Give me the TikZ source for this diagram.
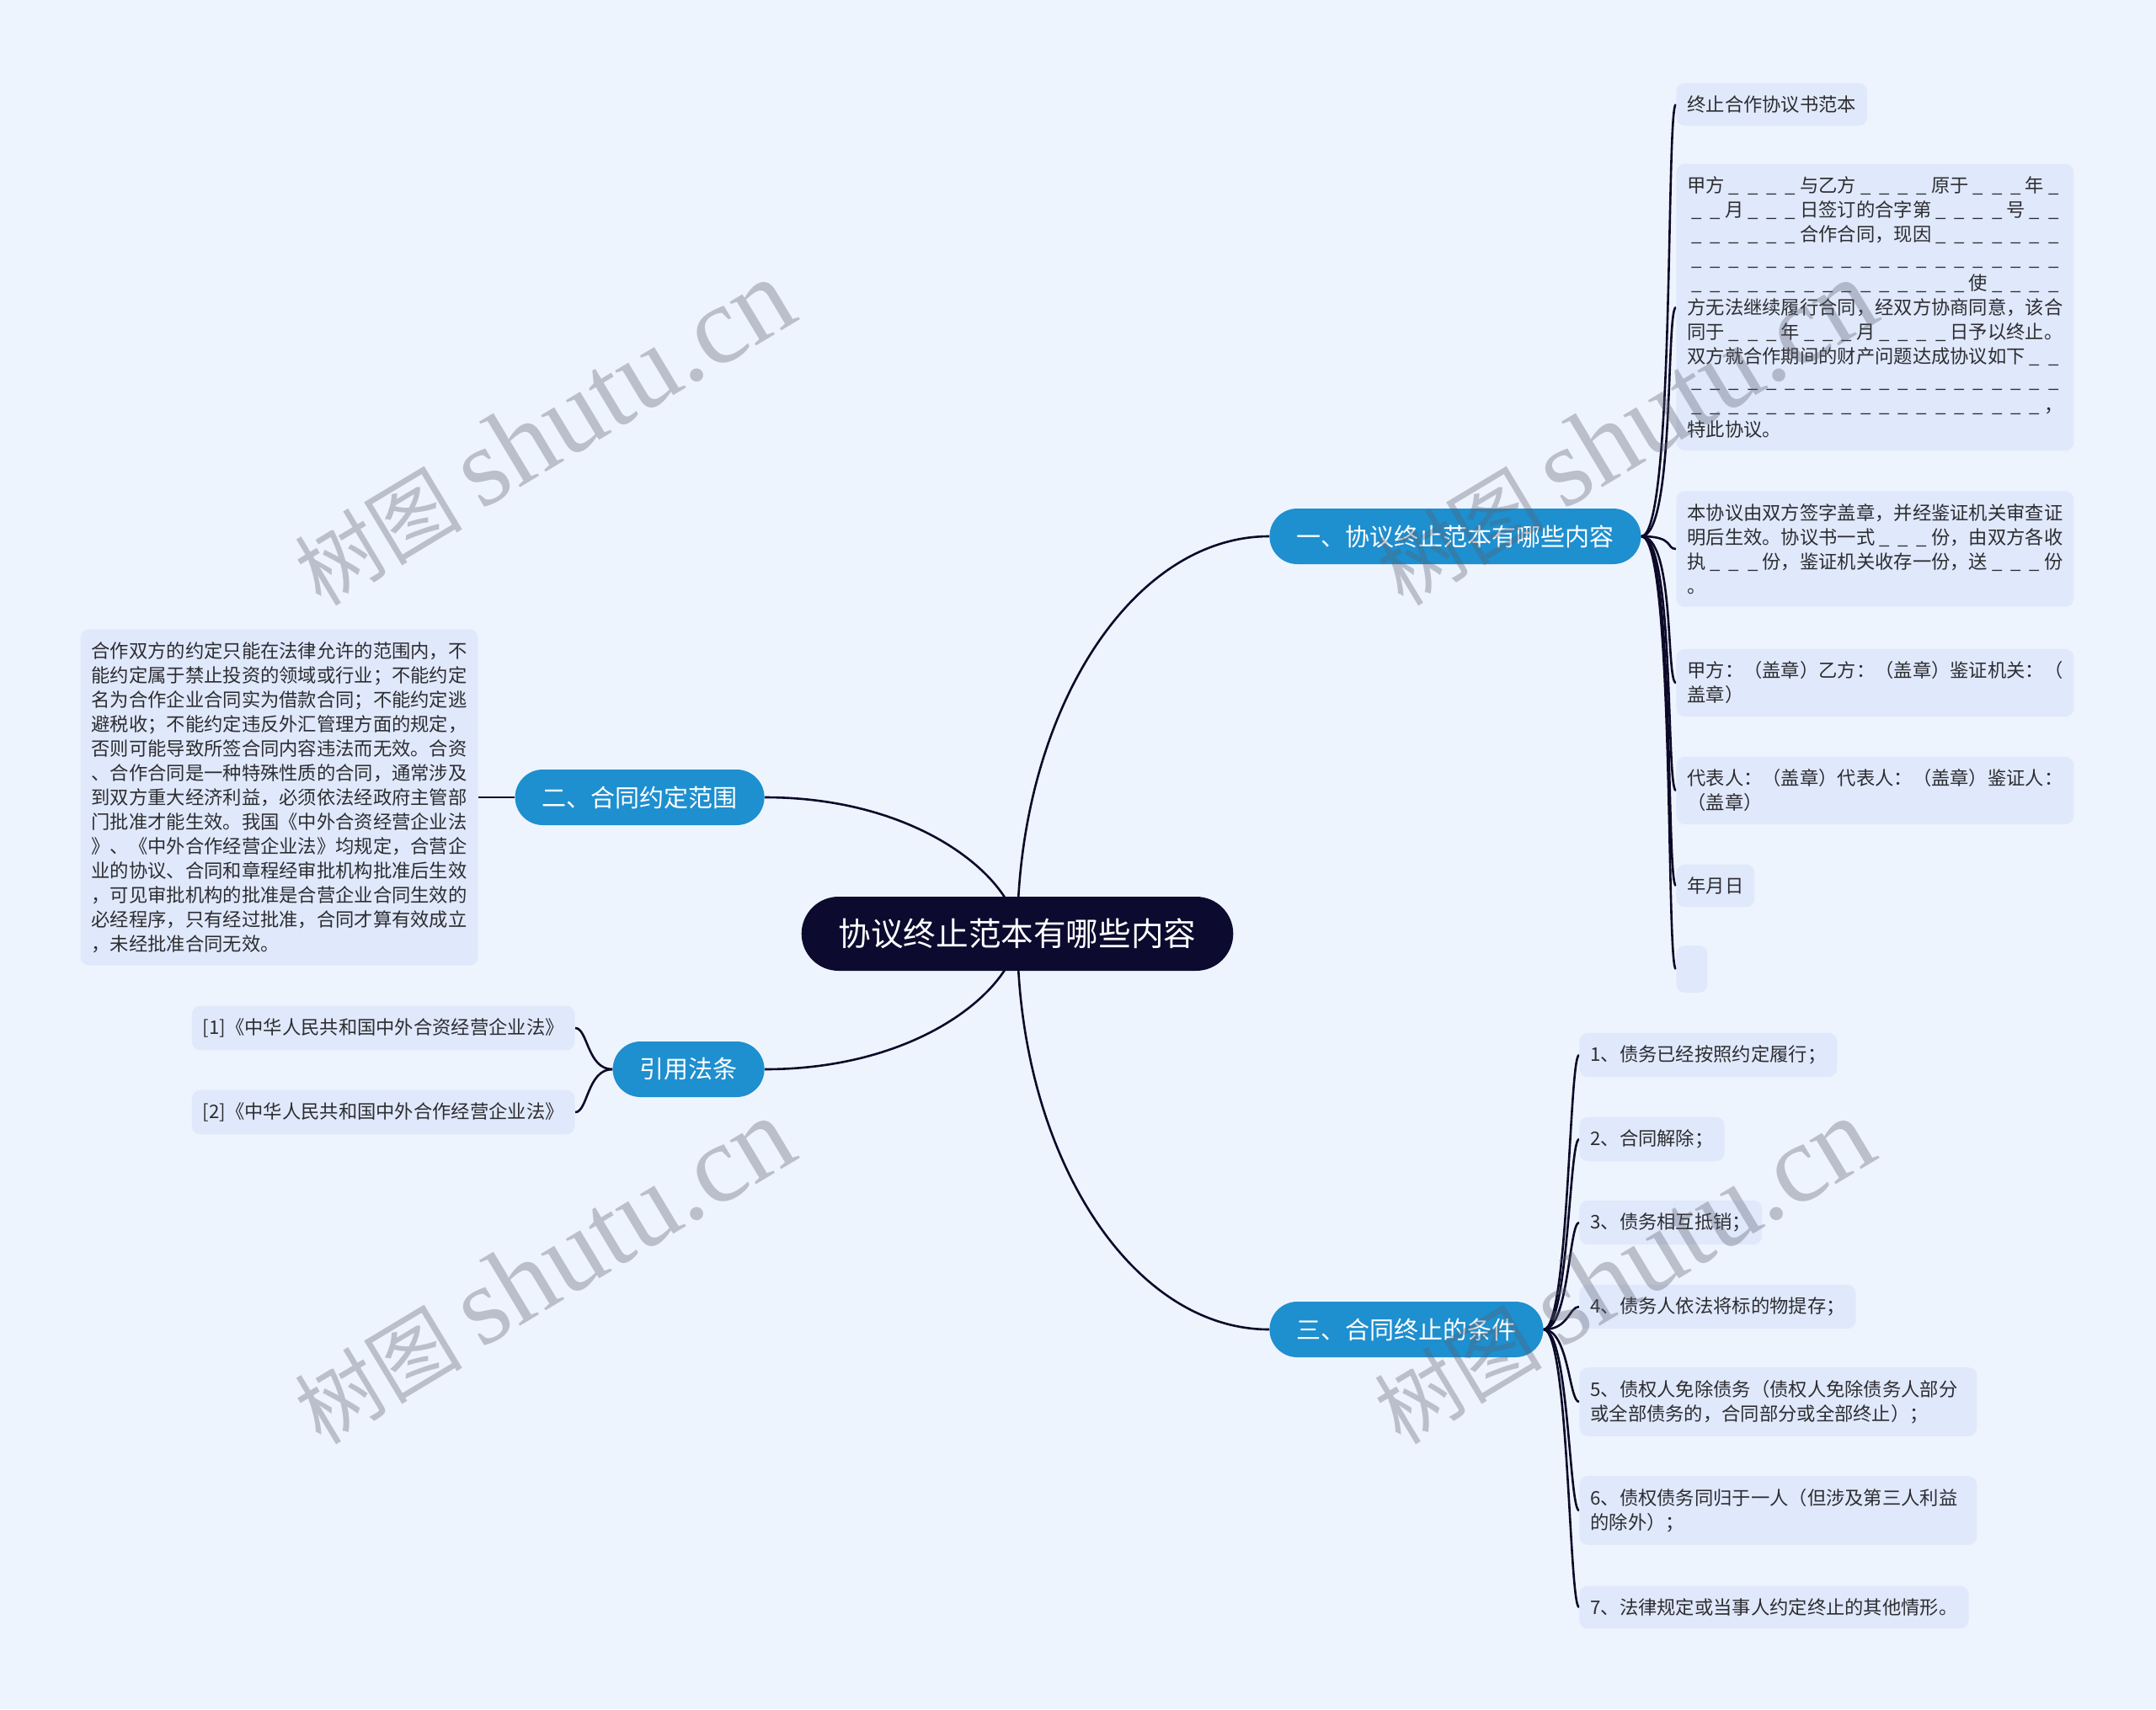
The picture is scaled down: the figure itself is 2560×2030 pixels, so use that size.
\documentclass[tikz,border=0pt]{standalone}
\usepackage{fontspec}
\setmainfont{Noto Sans CJK SC}
\newfontfamily\wmfont{Liberation Serif}
\usetikzlibrary{positioning}
\definecolor{bgblue}{RGB}{238,244,254}
\definecolor{leaffill}{RGB}{224,233,251}
\definecolor{branchblue}{RGB}{30,143,207}
\definecolor{rootnavy}{RGB}{12,10,46}
\definecolor{linknavy}{RGB}{12,10,40}
\definecolor{leaftext}{RGB}{45,45,50}
\definecolor{wmgray}{RGB}{90,95,110}
\newcommand{\blk}[1]{\foreach \k in {1,...,#1}{\makebox[1em]{\_}}}
\pgfdeclarelayer{back}
\pgfdeclarelayer{links}
\pgfsetlayers{back,links,main}
\tikzset{
    root/.style={rectangle, rounded corners=22pt, fill=rootnavy, text=white, font=\fontsize{19.3}{23}\selectfont, minimum height=44pt, inner xsep=22pt},
    branch/.style={rectangle, rounded corners=16.5pt, fill=branchblue, text=white, font=\fontsize{14.5}{17}\selectfont, minimum height=33pt, inner xsep=16pt},
    leaf/.style={rectangle, rounded corners=5pt, fill=leaffill, text=leaftext, font=\fontsize{11.15}{14.5}\selectfont, inner xsep=6.5pt, inner ysep=7.5pt, align=left},
    leafwide/.style={leaf, text width=223pt},
    link/.style={draw=linknavy, line width=1.3pt},
    wmark/.style={text=wmgray, text opacity=0.35, rotate=31, font=\fontsize{50}{60}\selectfont}
}

\begin{document}
\begin{tikzpicture}[x=0.5pt, y=-0.5pt]
    \useasboundingbox (0,0) rectangle (2560,2030);
    \begin{pgfonlayer}{back}
        \fill[bgblue] (0,0) rectangle (2560,2030);
    \end{pgfonlayer}

    % centre and main branches
    \node (root) [root] at (1208,1109) {协议终止范本有哪些内容};
    \node (b1) [branch, anchor=west] at (1507,637) {一、协议终止范本有哪些内容};
    \node (b2) [branch, anchor=east] at (908,947) {二、合同约定范围};
    \node (b4) [branch, anchor=east] at (908,1270) {引用法条};
    \node (b3) [branch, anchor=west] at (1507,1579) {三、合同终止的条件};

    % branch 1
    \node (t1) [leaf, anchor=west] at (1990,124) {终止合作协议书范本};
    \node (t2) [leafwide, anchor=west] at (1990,365) {甲方\blk{4}与乙方\blk{4}原于\blk{3}年\blk{1}\\
        \blk{2}月\blk{3}日签订的合字第\blk{4}号\blk{2}\\
        \blk{6}合作合同，现因\blk{7}\\
        \blk{20}\\
        \blk{15}使\blk{4}\\
        方无法继续履行合同，经双方协商同意，该合\\
        同于\blk{3}年\blk{3}月\blk{4}日予以终止。\\
        双方就合作期间的财产问题达成协议如下\blk{2}\\
        \blk{20}\\
        \blk{19}，\\
        特此协议。};
    \node (t3) [leafwide, anchor=west] at (1990,652) {本协议由双方签字盖章，并经鉴证机关审查证\\
        明后生效。协议书一式\blk{3}份，由双方各收\\
        执\blk{3}份，鉴证机关收存一份，送\blk{3}份\\
        。};
    \node (t4) [leafwide, anchor=west] at (1990,811) {甲方：（盖章）乙方：（盖章）鉴证机关：（\\盖章）};
    \node (t5) [leafwide, anchor=west] at (1990,939) {代表人：（盖章）代表人：（盖章）鉴证人：\\（盖章）};
    \node (t6) [leaf, anchor=west] at (1990,1052) {年月日};
    \node (t7) [leaf, anchor=west, minimum width=18.5pt, minimum height=28pt] at (1990,1151) {};

    % branch 2
    \node (s1) [leafwide, anchor=east] at (568,947) {合作双方的约定只能在法律允许的范围内，不\\
        能约定属于禁止投资的领域或行业；不能约定\\
        名为合作企业合同实为借款合同；不能约定逃\\
        避税收；不能约定违反外汇管理方面的规定，\\
        否则可能导致所签合同内容违法而无效。合资\\
        、合作合同是一种特殊性质的合同，通常涉及\\
        到双方重大经济利益，必须依法经政府主管部\\
        门批准才能生效。我国《中外合资经营企业法\\
        》、《中外合作经营企业法》均规定，合营企\\
        业的协议、合同和章程经审批机构批准后生效\\
        ，可见审批机构的批准是合营企业合同生效的\\
        必经程序，只有经过批准，合同才算有效成立\\
        ，未经批准合同无效。};

    % cited laws
    \node (r1) [leaf, anchor=east] at (683,1221) {[1]《中华人民共和国中外合资经营企业法》};
    \node (r2) [leaf, anchor=east] at (683,1321) {[2]《中华人民共和国中外合作经营企业法》};

    % branch 3
    \node (c1) [leaf, anchor=west] at (1875,1253) {1、债务已经按照约定履行；};
    \node (c2) [leaf, anchor=west] at (1875,1353) {2、合同解除；};
    \node (c3) [leaf, anchor=west] at (1875,1452) {3、债务相互抵销；};
    \node (c4) [leaf, anchor=west] at (1875,1552) {4、债务人依法将标的物提存；};
    \node (c5) [leafwide, anchor=west] at (1875,1665) {5、债权人免除债务（债权人免除债务人部分\\或全部债务的，合同部分或全部终止）；};
    \node (c6) [leafwide, anchor=west] at (1875,1794) {6、债权债务同归于一人（但涉及第三人利益\\的除外）；};
    \node (c7) [leaf, anchor=west] at (1875,1909) {7、法律规定或当事人约定终止的其他情形。};

    \begin{pgfonlayer}{links}
        \draw [link] (root.center) .. controls +(0,-260) and +(-165,0) .. (b1.west);
        \draw [link] (root.center) .. controls +(0,260) and +(-165,0) .. (b3.west);
        \draw [link] (root.center) .. controls +(0,-60) and +(190,0) .. (b2.east);
        \draw [link] (root.center) .. controls +(0,60) and +(190,0) .. (b4.east);
        \foreach \i in {1,...,7}
            \draw [link] (b1.east) .. controls +(40,0) and +(-12,0) .. (t\i.west);
        \foreach \i in {1,...,7}
            \draw [link] (b3.east) .. controls +(30,0) and +(-12,0) .. (c\i.west);
        \draw [link] (b2.west) -- (s1.east);
        \foreach \i in {1,2}
            \draw [link] (b4.west) .. controls +(-30,0) and +(15,0) .. (r\i.east);
    \end{pgfonlayer}

    % watermarks
    \foreach \x/\y [count=\n] in {645/514, 1930/514, 645/1510, 1927/1510}
        \node (wm\n) [wmark] at (\x,\y) {树图 {\wmfont\fontsize{66}{70}\selectfont shutu.cn}};
\end{tikzpicture}
\end{document}
